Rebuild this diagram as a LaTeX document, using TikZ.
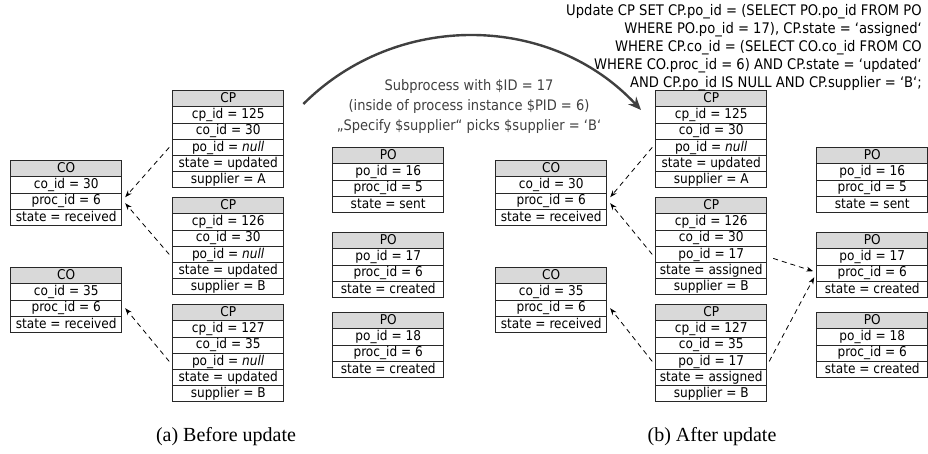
\documentclass[tikz,border=0pt]{standalone}
\usepackage{fontspec}
\setmainfont{Liberation Serif}
\newfontfamily\tabfont{DejaVu Sans Condensed}
\usetikzlibrary{matrix,arrows.meta}
\definecolor{hdrgray}{RGB}{217,217,217}
\definecolor{arcgray}{RGB}{64,64,64}
\definecolor{boxline}{RGB}{40,40,40}
\tikzset{
  tbl/.style={matrix of nodes, inner sep=0pt, anchor=north west,
    row sep=-1pt,
    nodes={draw=boxline, line width=1pt, font=\tabfont\fontsize{13.5}{13.5}\selectfont,
      minimum width=111pt, minimum height=16.2pt, inner sep=0pt,
      text height=10pt, text depth=2.5pt},
    row 1/.style={nodes={fill=hdrgray}}},
  link/.style={-{Stealth[length=7pt,width=5pt]}, dash pattern=on 5pt off 4pt, line width=0.8pt},
  subproc/.style={-{Stealth[length=13pt,width=11pt]}, arcgray, line width=2.4pt},
  subtext/.style={align=center, text=arcgray, font=\tabfont\fontsize{14.5}{20}\selectfont},
  sqltext/.style={align=right, font=\tabfont\fontsize{14.6}{18}\selectfont, inner sep=0pt},
  caption/.style={font=\fontsize{20}{20}\selectfont}
}
\begin{document}
\begin{tikzpicture}[x=1pt,y=-1pt]
  \useasboundingbox (0,0) rectangle (928,453);
  %%%%% CO AND PO TABLES (same on both sides)
  \foreach \side/\xco/\xpo in {l/10/332, r/495/816} {
    \matrix (\side CO1) [tbl] at (\xco,160) {
      CO \\ co\_id = 30 \\ proc\_id = 6 \\ state = received \\
    };
    \matrix (\side CO2) [tbl] at (\xco,267) {
      CO \\ co\_id = 35 \\ proc\_id = 6 \\ state = received \\
    };
    \matrix (\side PO1) [tbl] at (\xpo,147) {
      PO \\ po\_id = 16 \\ proc\_id = 5 \\ state = sent \\
    };
    \matrix (\side PO2) [tbl] at (\xpo,232) {
      PO \\ po\_id = 17 \\ proc\_id = 6 \\ state = created \\
    };
    \matrix (\side PO3) [tbl] at (\xpo,312) {
      PO \\ po\_id = 18 \\ proc\_id = 6 \\ state = created \\
    };
  }
  %%%%% CP TABLES BEFORE
  \matrix (lCP1) [tbl] at (172,90) {
    CP \\ cp\_id = 125 \\ co\_id = 30 \\ po\_id = \textit{null} \\ state = updated \\ supplier = A \\
  };
  \matrix (lCP2) [tbl] at (172,197) {
    CP \\ cp\_id = 126 \\ co\_id = 30 \\ po\_id = \textit{null} \\ state = updated \\ supplier = B \\
  };
  \matrix (lCP3) [tbl] at (172,304) {
    CP \\ cp\_id = 127 \\ co\_id = 35 \\ po\_id = \textit{null} \\ state = updated \\ supplier = B \\
  };
  %%%%% CP TABLES AFTER
  \matrix (rCP1) [tbl] at (655,90) {
    CP \\ cp\_id = 125 \\ co\_id = 30 \\ po\_id = \textit{null} \\ state = updated \\ supplier = A \\
  };
  \matrix (rCP2) [tbl] at (655,197) {
    CP \\ cp\_id = 126 \\ co\_id = 30 \\ po\_id = 17 \\ state = assigned \\ supplier = B \\
  };
  \matrix (rCP3) [tbl] at (655,304) {
    CP \\ cp\_id = 127 \\ co\_id = 35 \\ po\_id = 17 \\ state = assigned \\ supplier = B \\
  };
  %%%%% LINKS CP -> CO
  \foreach \side in {l,r} {
    \draw[link] ([xshift=-3pt]\side CP1-4-1.west) -- ([xshift=3pt,yshift=4pt]\side CO1-3-1.east);
    \draw[link] ([xshift=-3pt]\side CP2-4-1.west) -- ([xshift=3pt,yshift=-2pt]\side CO1-3-1.east);
    \draw[link] ([xshift=-3pt]\side CP3-4-1.west) -- ([xshift=3pt]\side CO2-3-1.east);
  }
  %%%%% LINKS CP -> PO
  \draw[link] ([xshift=6pt,yshift=-4pt]rCP2-4-1.east) -- ([xshift=-3pt,yshift=2pt]rPO2-3-1.west);
  \draw[link] ([xshift=2pt]rCP3-4-1.east) -- ([xshift=-2pt,yshift=-4pt]rPO2-3-1.west);
  %%%%% THE SUBPROCESS
  \draw[subproc] ([xshift=19pt,yshift=-14pt]lCP1.north east) to[bend left=46]
    ([xshift=-14pt,yshift=-20pt]rCP1.north west);
  \node[subtext] (subinfo) at (469,106)
    {Subprocess with \$ID = 17\\(inside of process instance \$PID = 6)\\„Specify \$supplier“ picks \$supplier = ‘B‘};
  \node[sqltext, anchor=north east] (sql) at (922,4)
    {Update CP SET CP.po\_id = (SELECT PO.po\_id FROM PO\\
     WHERE PO.po\_id = 17), CP.state = ‘assigned‘\\
     WHERE CP.co\_id = (SELECT CO.co\_id FROM CO\\
     WHERE CO.proc\_id = 6) AND CP.state = ‘updated‘\\
     AND CP.po\_id IS NULL AND CP.supplier = ‘B‘;};
  %%%%% CAPTIONS
  \node[caption] (capA) at (226,437) {(a) Before update};
  \node[caption] (capB) at (712,437) {(b) After update};
\end{tikzpicture}
\end{document}
